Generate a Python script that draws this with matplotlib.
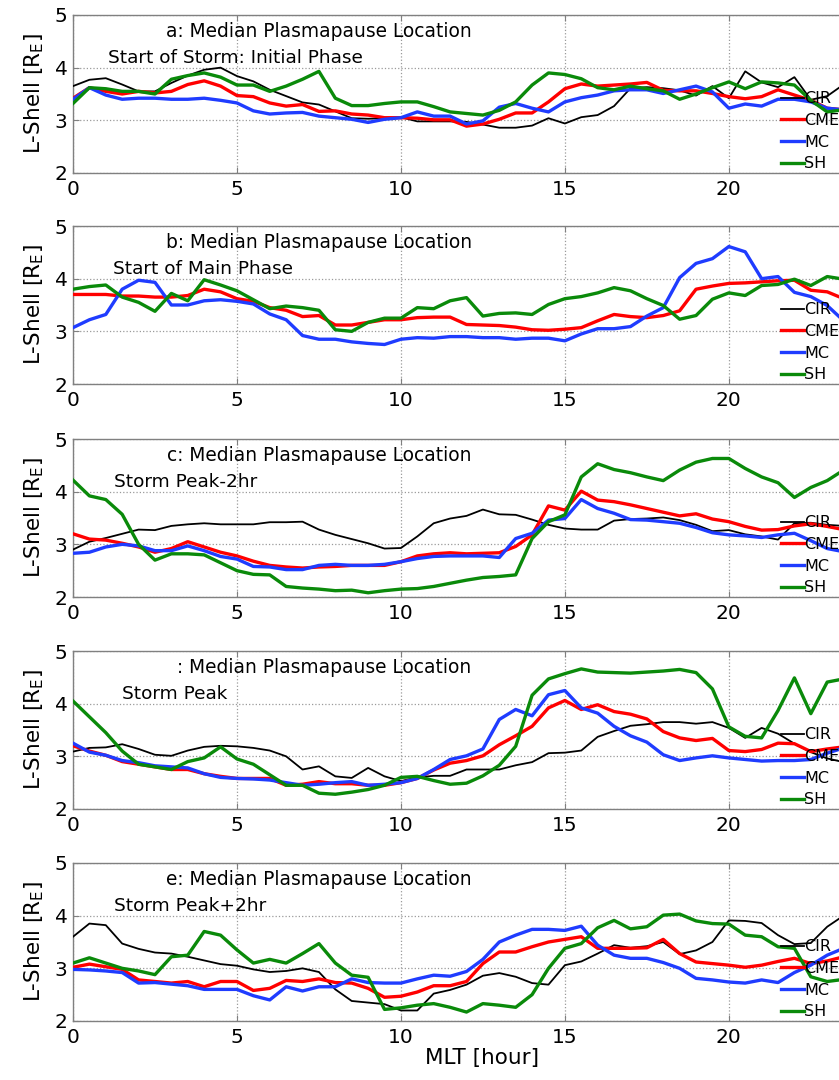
import numpy as np
import matplotlib
matplotlib.use("Agg")
import matplotlib.pyplot as plt

plt.rcParams['font.family'] = ['DejaVu Sans']

mlt = np.arange(0, 24, 0.5)
series_names = ["CIR", "CME", "MC", "SH"]
series_colors = ["black", "#ff0000", "#1f3cff", "#0a8a0a"]

# ---- panel a: Start of Storm: Initial Phase
cir_a = [3.65, 3.77, 3.80, 3.68, 3.55, 3.55, 3.71, 3.85, 3.96, 4.00, 3.84, 3.74, 3.58, 3.46, 3.34, 3.30,
         3.17, 3.04, 3.03, 3.04, 3.06, 2.98, 2.98, 2.98, 2.97, 2.92, 2.86, 2.86, 2.90, 3.04, 2.94, 3.06,
         3.10, 3.27, 3.61, 3.63, 3.61, 3.57, 3.47, 3.65, 3.42, 3.93, 3.72, 3.63, 3.82, 3.39, 3.46, 3.68]
cme_a = [3.42, 3.62, 3.55, 3.50, 3.55, 3.52, 3.55, 3.68, 3.75, 3.65, 3.47, 3.45, 3.33, 3.27, 3.30, 3.17,
         3.18, 3.12, 3.10, 3.05, 3.05, 3.04, 3.01, 3.01, 2.89, 2.93, 3.02, 3.14, 3.14, 3.35, 3.60, 3.69,
         3.65, 3.67, 3.69, 3.72, 3.57, 3.56, 3.56, 3.51, 3.45, 3.41, 3.45, 3.58, 3.48, 3.38, 3.23, 3.20]
mc_a = [3.40, 3.62, 3.48, 3.40, 3.42, 3.42, 3.40, 3.40, 3.42, 3.38, 3.33, 3.18, 3.12, 3.14, 3.15, 3.08,
        3.05, 3.02, 2.96, 3.02, 3.05, 3.16, 3.08, 3.08, 2.93, 2.99, 3.25, 3.32, 3.23, 3.16, 3.35, 3.43,
        3.48, 3.56, 3.58, 3.58, 3.51, 3.58, 3.65, 3.54, 3.23, 3.31, 3.27, 3.40, 3.40, 3.35, 3.23, 3.20]
sh_a = [3.32, 3.62, 3.60, 3.55, 3.55, 3.50, 3.78, 3.85, 3.90, 3.82, 3.67, 3.67, 3.55, 3.65, 3.78, 3.93,
        3.42, 3.28, 3.28, 3.32, 3.35, 3.35, 3.26, 3.16, 3.13, 3.10, 3.19, 3.35, 3.67, 3.90, 3.87, 3.79,
        3.62, 3.58, 3.65, 3.60, 3.56, 3.40, 3.50, 3.62, 3.73, 3.60, 3.73, 3.71, 3.67, 3.38, 3.16, 3.20]

# ---- panel b: Start of Main Phase (no CIR curve drawn)
cir_b = [np.nan] * 48
cme_b = [3.70, 3.70, 3.70, 3.67, 3.67, 3.65, 3.65, 3.68, 3.80, 3.75, 3.62, 3.57, 3.45, 3.40, 3.28, 3.30,
         3.12, 3.12, 3.17, 3.22, 3.22, 3.26, 3.27, 3.27, 3.13, 3.12, 3.11, 3.08, 3.03, 3.02, 3.04, 3.07,
         3.20, 3.32, 3.28, 3.26, 3.30, 3.39, 3.80, 3.86, 3.91, 3.92, 3.94, 3.96, 3.97, 3.78, 3.75, 3.62]
mc_b = [3.07, 3.22, 3.32, 3.80, 3.97, 3.93, 3.50, 3.50, 3.58, 3.60, 3.57, 3.52, 3.33, 3.22, 2.92, 2.85,
        2.85, 2.80, 2.77, 2.75, 2.85, 2.88, 2.87, 2.90, 2.90, 2.88, 2.88, 2.85, 2.87, 2.87, 2.82, 2.95,
        3.05, 3.05, 3.09, 3.29, 3.45, 4.02, 4.29, 4.38, 4.61, 4.51, 4.00, 4.04, 3.74, 3.66, 3.49, 3.20]
sh_b = [3.80, 3.85, 3.88, 3.65, 3.55, 3.38, 3.72, 3.58, 3.98, 3.88, 3.77, 3.60, 3.43, 3.48, 3.45, 3.40,
        3.03, 3.00, 3.17, 3.25, 3.25, 3.45, 3.43, 3.58, 3.64, 3.29, 3.34, 3.35, 3.32, 3.51, 3.62, 3.66,
        3.73, 3.83, 3.77, 3.62, 3.49, 3.23, 3.30, 3.61, 3.73, 3.68, 3.87, 3.89, 3.99, 3.87, 4.04, 3.99]

# ---- panel c: Storm Peak-2hr
cir_c = [2.90, 3.05, 3.12, 3.20, 3.28, 3.27, 3.35, 3.38, 3.40, 3.38, 3.38, 3.38, 3.42, 3.42, 3.43, 3.28,
         3.18, 3.10, 3.02, 2.92, 2.93, 3.15, 3.40, 3.49, 3.54, 3.66, 3.57, 3.56, 3.47, 3.37, 3.30, 3.28,
         3.28, 3.45, 3.48, 3.49, 3.51, 3.46, 3.37, 3.25, 3.27, 3.19, 3.15, 3.09, 3.40, 3.41, 3.37, 3.35]
cme_c = [3.20, 3.10, 3.08, 3.02, 2.95, 2.85, 2.92, 3.05, 2.95, 2.85, 2.78, 2.68, 2.60, 2.57, 2.55, 2.57,
         2.58, 2.60, 2.60, 2.60, 2.67, 2.78, 2.82, 2.84, 2.82, 2.83, 2.84, 2.96, 3.18, 3.73, 3.65, 4.01,
         3.84, 3.81, 3.75, 3.68, 3.61, 3.54, 3.58, 3.48, 3.43, 3.34, 3.27, 3.28, 3.35, 3.39, 3.34, 3.28]
mc_c = [2.83, 2.85, 2.95, 3.00, 2.97, 2.88, 2.88, 2.97, 2.88, 2.77, 2.72, 2.58, 2.57, 2.52, 2.52, 2.60,
        2.62, 2.60, 2.60, 2.62, 2.67, 2.73, 2.77, 2.78, 2.78, 2.78, 2.75, 3.11, 3.21, 3.46, 3.49, 3.85,
        3.68, 3.59, 3.47, 3.46, 3.43, 3.40, 3.32, 3.22, 3.18, 3.16, 3.13, 3.18, 3.21, 3.07, 2.92, 2.86]
sh_c = [4.22, 3.92, 3.85, 3.57, 3.00, 2.70, 2.82, 2.82, 2.80, 2.65, 2.50, 2.43, 2.42, 2.20, 2.17, 2.15,
        2.12, 2.13, 2.08, 2.12, 2.15, 2.16, 2.20, 2.26, 2.32, 2.37, 2.39, 2.42, 3.11, 3.43, 3.56, 4.28,
        4.53, 4.42, 4.36, 4.28, 4.21, 4.41, 4.56, 4.63, 4.63, 4.44, 4.28, 4.17, 3.89, 4.08, 4.21, 4.41]

# ---- panel d: Storm Peak
cir_d = [3.09, 3.16, 3.17, 3.23, 3.14, 3.03, 3.01, 3.11, 3.18, 3.20, 3.19, 3.16, 3.11, 3.00, 2.75, 2.81,
         2.62, 2.59, 2.78, 2.62, 2.53, 2.60, 2.63, 2.63, 2.75, 2.75, 2.75, 2.83, 2.89, 3.06, 3.07, 3.11,
         3.37, 3.48, 3.58, 3.61, 3.65, 3.65, 3.62, 3.65, 3.54, 3.35, 3.54, 3.43, 3.24, 3.08, 2.96, 2.89]
cme_d = [3.20, 3.10, 3.02, 2.90, 2.85, 2.80, 2.75, 2.75, 2.67, 2.62, 2.58, 2.58, 2.58, 2.45, 2.47, 2.52,
         2.48, 2.48, 2.45, 2.45, 2.50, 2.58, 2.74, 2.87, 2.92, 3.01, 3.22, 3.39, 3.57, 3.92, 4.06, 3.89,
         3.98, 3.85, 3.80, 3.71, 3.47, 3.35, 3.30, 3.34, 3.11, 3.09, 3.13, 3.25, 3.24, 3.09, 3.14, 3.18]
mc_d = [3.25, 3.08, 3.02, 2.92, 2.88, 2.82, 2.80, 2.78, 2.67, 2.60, 2.58, 2.57, 2.55, 2.50, 2.45, 2.47,
        2.50, 2.52, 2.45, 2.47, 2.50, 2.58, 2.75, 2.94, 3.01, 3.14, 3.70, 3.89, 3.77, 4.17, 4.25, 3.92,
        3.82, 3.57, 3.39, 3.27, 3.03, 2.92, 2.97, 3.01, 2.97, 2.94, 2.91, 2.92, 2.92, 2.94, 3.06, 3.16]
sh_d = [4.05, 3.75, 3.45, 3.10, 2.85, 2.80, 2.75, 2.90, 2.97, 3.18, 2.95, 2.85, 2.65, 2.45, 2.45, 2.30,
        2.28, 2.32, 2.37, 2.45, 2.60, 2.62, 2.54, 2.47, 2.49, 2.63, 2.83, 3.19, 4.16, 4.47, 4.57, 4.66,
        4.60, 4.59, 4.58, 4.60, 4.62, 4.65, 4.59, 4.28, 3.56, 3.38, 3.35, 3.87, 4.49, 3.81, 4.41, 4.47]

# ---- panel e: Storm Peak+2hr
cir_e = [3.60, 3.85, 3.82, 3.47, 3.37, 3.30, 3.28, 3.22, 3.15, 3.08, 3.05, 2.98, 2.93, 2.95, 3.00, 2.93,
         2.60, 2.38, 2.35, 2.32, 2.20, 2.20, 2.52, 2.59, 2.69, 2.86, 2.91, 2.84, 2.72, 2.69, 3.06, 3.13,
         3.28, 3.44, 3.39, 3.42, 3.50, 3.27, 3.34, 3.50, 3.91, 3.90, 3.86, 3.63, 3.46, 3.48, 3.79, 4.00]
cme_e = [3.02, 3.08, 3.03, 2.98, 2.78, 2.75, 2.72, 2.75, 2.65, 2.75, 2.75, 2.58, 2.62, 2.77, 2.75, 2.80,
         2.73, 2.72, 2.62, 2.45, 2.47, 2.55, 2.67, 2.67, 2.75, 3.09, 3.31, 3.31, 3.41, 3.50, 3.55, 3.60,
         3.38, 3.38, 3.38, 3.39, 3.55, 3.28, 3.12, 3.09, 3.06, 3.02, 3.06, 3.13, 3.19, 3.09, 3.14, 3.22]
mc_e = [2.98, 2.97, 2.95, 2.92, 2.72, 2.73, 2.70, 2.67, 2.60, 2.60, 2.60, 2.48, 2.40, 2.65, 2.57, 2.65,
        2.65, 2.80, 2.73, 2.72, 2.72, 2.80, 2.87, 2.85, 2.94, 3.17, 3.50, 3.63, 3.74, 3.74, 3.72, 3.80,
        3.44, 3.25, 3.19, 3.19, 3.11, 3.00, 2.81, 2.78, 2.74, 2.72, 2.78, 2.73, 2.92, 3.06, 3.25, 3.38]
sh_e = [3.10, 3.20, 3.10, 3.00, 2.95, 2.88, 3.22, 3.25, 3.70, 3.63, 3.35, 3.10, 3.17, 3.10, 3.28, 3.47,
        3.10, 2.87, 2.83, 2.22, 2.25, 2.30, 2.33, 2.26, 2.17, 2.33, 2.30, 2.26, 2.50, 3.00, 3.38, 3.47,
        3.77, 3.91, 3.75, 3.79, 4.01, 4.03, 3.90, 3.85, 3.84, 3.63, 3.60, 3.41, 3.38, 2.84, 2.75, 2.79]

titles = ["a: Median Plasmapause Location",
          "b: Median Plasmapause Location",
          "c: Median Plasmapause Location",
          ": Median Plasmapause Location",
          "e: Median Plasmapause Location"]
subtitles = ["Start of Storm: Initial Phase",
             "Start of Main Phase",
             "Storm Peak-2hr",
             "Storm Peak",
             "Storm Peak+2hr"]
subtitle_x = [1.07, 1.22, 1.25, 1.49, 1.25]
panels = [
    [cir_a, cme_a, mc_a, sh_a],
    [cir_b, cme_b, mc_b, sh_b],
    [cir_c, cme_c, mc_c, sh_c],
    [cir_d, cme_d, mc_d, sh_d],
    [cir_e, cme_e, mc_e, sh_e],
]
xticks = [0, 5, 10, 15, 20]
yticks = [2, 3, 4, 5]

W, H = 839, 1080
fig = plt.figure(figsize=(W / 100, H / 100), dpi=100)
tops_px = [15, 226, 439, 651, 863]
ax_h_px = 158
left_px, right_px = 73, 860

for i, (data, ttl, sub) in enumerate(zip(panels, titles, subtitles)):
    top = tops_px[i]
    ax = fig.add_axes([left_px / W, 1 - (top + ax_h_px) / H,
                       (right_px - left_px) / W, ax_h_px / H])
    handles = []
    for vals, name, col in zip(data, series_names, series_colors):
        lw = 1.3 if name == "CIR" else 2.4
        h, = ax.plot(mlt, vals, color=col, lw=lw, label=name, zorder=3)
        handles.append(h)
    ax.set_xlim(0, 24)
    ax.set_ylim(2, 5)
    ax.set_xticks(xticks)
    ax.set_yticks(yticks)
    ax.grid(True, linestyle=':', color='#9a9a9a', linewidth=0.9)
    for sp in ax.spines.values():
        sp.set_color('#808080')
        sp.set_linewidth(1.0)
    ax.tick_params(direction='in', length=4, color='#808080', labelsize=14.5,
                   top=True, right=True, pad=4)
    ax.tick_params(axis='x', pad=5)
    ax.set_ylabel("L-Shell [R$_\\mathregular{E}$]", fontsize=15.5, labelpad=6)
    ax.text(12.16, 4.68, ttl, ha='right', va='center', fontsize=13.4)
    ax.text(subtitle_x[i], 4.18, sub, ha='left', va='center', fontsize=13.3)
    leg = ax.legend(handles=handles, loc='lower left', bbox_to_anchor=(0.898, 0.0),
                    frameon=False, fontsize=11.5, handlelength=1.4, handletextpad=0.05,
                    labelspacing=0.42, borderpad=0.1, borderaxespad=0.0)
    leg.set_zorder(5)
    if i == 4:
        ax.set_xlabel("MLT [hour]", fontsize=15.5, labelpad=4)
        ax.xaxis.set_label_coords(0.52, -0.17)

fig.savefig("out.png", dpi=100)
